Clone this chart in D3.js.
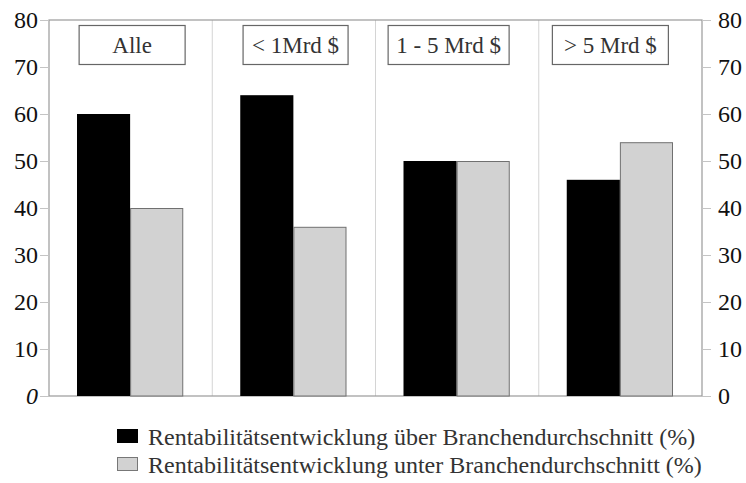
<!DOCTYPE html>
<html>
<head>
<meta charset="utf-8">
<script src="https://cdn.jsdelivr.net/npm/d3@7"></script>
<style>
  body { margin: 0; background: #fff; }
</style>
</head>
<body>
<div id="chart-area"></div>
<script>
// DATA
// =================
var categories = ['Alle', '< 1Mrd $', '1 - 5 Mrd $', '> 5 Mrd $'];
var overValues = [60, 64, 50, 46];
var underValues = [40, 36, 50, 54];
var seriesNames = [
    'Rentabilitätsentwicklung über Branchendurchschnitt (%)',
    'Rentabilitätsentwicklung unter Branchendurchschnitt (%)'
];
var yTicks = [0, 10, 20, 30, 40, 50, 60, 70, 80];

// label boxes (layout only): [offset of box centre from band centre, box width]
var boxLayout = [[1.5, 106], [1.7, 105], [-8.5, 121], [-10, 116]];

var FONT = '"Liberation Serif", "Times New Roman", serif';

// CANVAS
// =================
var W = 746, H = 483;
var pLeft = 49, pRight = 702, pTop = 20, pBottom = 396;

var svg = d3.select('#chart-area')
    .append('svg')
        .attr('width', W)
        .attr('height', H)
        .attr('font-family', FONT);

var x0 = d3.scaleBand()
    .domain(categories)
    .range([pLeft, pRight])
    .padding(0);

var x1 = d3.scaleBand()
    .domain(['over', 'under'])
    .range([28, x0.bandwidth() - 29])
    .padding(0);

var y = d3.scaleLinear()
    .domain([0, 80])
    .range([pBottom, pTop]);

// category dividers
svg.selectAll('.divider')
    .data(categories.slice(1))
    .enter()
    .append('line')
        .attr('class', 'divider')
        .attr('x1', d => x0(d))
        .attr('x2', d => x0(d))
        .attr('y1', pTop)
        .attr('y2', pBottom)
        .attr('stroke', '#d4d4d4')
        .attr('stroke-width', 1);

// frame
svg.append('rect')
    .attr('x', pLeft)
    .attr('y', pTop)
    .attr('width', pRight - pLeft)
    .attr('height', pBottom - pTop)
    .attr('fill', 'none')
    .attr('stroke', '#9a9a9a')
    .attr('stroke-width', 1.2);

// AXES
// =================
var yLeft = d3.axisLeft(y).tickValues(yTicks).tickSize(9).tickPadding(2);
var gl = svg.append('g')
    .attr('transform', 'translate(' + pLeft + ',0)')
    .call(yLeft)
    .attr('font-family', FONT);
gl.select('.domain').remove();
gl.selectAll('line').attr('stroke', '#c4c4c4');
gl.selectAll('text')
    .attr('font-family', FONT)
    .attr('font-size', '24px')
    .attr('fill', '#111')
    .style('font-style', d => d === 0 ? 'italic' : 'normal');

var yRight = d3.axisRight(y).tickValues(yTicks).tickSize(9).tickPadding(7);
var gr = svg.append('g')
    .attr('transform', 'translate(' + pRight + ',0)')
    .call(yRight)
    .attr('font-family', FONT);
gr.select('.domain').remove();
gr.selectAll('line').attr('stroke', '#c4c4c4');
gr.selectAll('text')
    .attr('font-family', FONT)
    .attr('font-size', '24px')
    .attr('fill', '#111');

// BARS
// =================
var rows = categories.map((c, i) => ({ cat: c, over: overValues[i], under: underValues[i] }));

var groups = svg.selectAll('.group')
    .data(rows)
    .enter()
    .append('g')
        .attr('class', 'group')
        .attr('transform', d => 'translate(' + x0(d.cat) + ',0)');

groups.append('rect')
    .attr('x', x1('over'))
    .attr('y', d => y(d.over))
    .attr('width', x1.bandwidth())
    .attr('height', d => y(0) - y(d.over))
    .attr('fill', '#000');

groups.append('rect')
    .attr('x', x1('under') + 0.5)
    .attr('y', d => y(d.under) + 0.5)
    .attr('width', x1.bandwidth() - 1)
    .attr('height', d => y(0) - y(d.under) - 0.5)
    .attr('fill', '#d2d2d2')
    .attr('stroke', '#707070')
    .attr('stroke-width', 1);

// category label boxes
groups.each(function (d, i) {
    var g = d3.select(this);
    var cx = x0.bandwidth() / 2 + boxLayout[i][0];
    var bw = boxLayout[i][1];
    g.append('rect')
        .attr('x', cx - bw / 2)
        .attr('y', 25.5)
        .attr('width', bw)
        .attr('height', 39)
        .attr('fill', '#fff')
        .attr('stroke', '#666')
        .attr('stroke-width', 1.2);
    g.append('text')
        .attr('x', cx)
        .attr('y', 53)
        .attr('text-anchor', 'middle')
        .attr('font-family', FONT)
        .attr('font-size', '23px')
        .attr('fill', '#333')
        .text(d.cat);
});

// LEGEND
// =================
var legend = svg.selectAll('.legend')
    .data(seriesNames)
    .enter()
    .append('g')
        .attr('class', 'legend')
        .attr('transform', (d, i) => 'translate(117,' + (429 + i * 28) + ')');

legend.append('rect')
    .attr('x', 0.5)
    .attr('y', 0.5)
    .attr('width', 20)
    .attr('height', 13)
    .attr('fill', (d, i) => i === 0 ? '#000' : '#d2d2d2')
    .attr('stroke', (d, i) => i === 0 ? '#000' : '#777');

legend.append('text')
    .attr('x', 31)
    .attr('y', 16)
    .attr('font-family', FONT)
    .attr('font-size', '24px')
    .attr('fill', '#333')
    .text(d => d);
</script>
</body>
</html>
